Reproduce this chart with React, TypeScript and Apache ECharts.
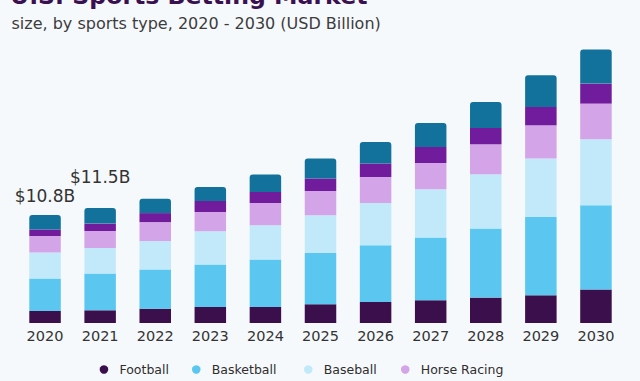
import React, { useEffect, useRef } from "react";
import * as echarts from "echarts";

const years = ["2020", "2021", "2022", "2023", "2024", "2025", "2026", "2027", "2028", "2029", "2030"];
const football = [1.2, 1.27, 1.43, 1.6, 1.6, 1.87, 2.1, 2.27, 2.54, 2.77, 3.34];
const basketball = [3.25, 3.67, 3.93, 4.24, 4.74, 5.13, 5.67, 6.27, 6.9, 7.83, 8.43];
const baseball = [2.6, 2.56, 2.83, 3.33, 3.43, 3.77, 4.23, 4.83, 5.43, 5.84, 6.6];
const horseRacing = [1.65, 1.7, 1.9, 1.93, 2.23, 2.43, 2.6, 2.63, 3.0, 3.33, 3.57];
const hockey = [0.65, 0.74, 0.9, 1.1, 1.1, 1.24, 1.34, 1.6, 1.63, 1.83, 2.0];
const others = [1.45, 1.56, 1.43, 1.4, 1.74, 2.0, 2.16, 2.4, 2.6, 3.17, 3.4];
const totalLabels = ["$10.8B", "$11.5B", "", "", "", "", "", "", "", "", ""];
const labelDistances = [11, 23, 0, 0, 0, 0, 0, 0, 0, 0, 0];

const FONT = "DejaVu Sans";

export default function App() {
  const ref = useRef<HTMLDivElement>(null);
  useEffect(() => {
    if (!ref.current) return;
    const chart = echarts.init(ref.current, undefined, { renderer: "svg" });
    const mk = (name: string, data: any[], color: string, extra: any = {}) => ({
      name,
      type: "bar",
      stack: "total",
      barWidth: 31.5,
      data,
      itemStyle: { color },
      emphasis: { disabled: true },
      ...extra,
    });
    const legendItem = (name: string, left: number) => ({
      data: [name],
      left,
      top: 358,
      icon: "circle",
      itemWidth: 21,
      itemHeight: 8.5,
      itemGap: 0,
      textStyle: { fontFamily: FONT, fontSize: 12.5, color: "#2e2e2e" },
      selectedMode: false,
    });
    chart.setOption({
      animation: false,
      backgroundColor: "#f6f9fc",
      grid: { left: 17.5, right: 16.5, top: 23, bottom: 58 },
      xAxis: {
        type: "category",
        data: years,
        axisLine: { show: false },
        axisTick: { show: false },
        axisLabel: { fontFamily: FONT, fontSize: 14.5, color: "#333", margin: 5 },
      },
      yAxis: { type: "value", min: 0, max: 30, show: false, splitLine: { show: false } },
      legend: [
        legendItem("Football", 94.7),
        legendItem("Basketball", 187),
        legendItem("Baseball", 299),
        legendItem("Horse Racing", 396),
      ],
      graphic: [
        {
          type: "text",
          left: 10,
          top: -16,
          style: {
            text: "U.S. Sports Betting Market",
            font: `bold 23.6px "${FONT}"`,
            fill: "#3a1150",
          },
        },
        {
          type: "text",
          left: 11.5,
          top: 15,
          style: {
            text: "size, by sports type, 2020 - 2030 (USD Billion)",
            font: `16px "${FONT}"`,
            fill: "#3c3c3c",
          },
        },
      ],
      series: [
        mk("Football", football, "#3a0f4c"),
        mk("Basketball", basketball, "#5bc7f1"),
        mk("Baseball", baseball, "#c2e9fa"),
        mk("Horse Racing", horseRacing, "#d3a4e8"),
        mk("Hockey", hockey, "#701c9c"),
        mk(
          "Others",
          others.map((v, i) => ({
            value: v,
            label: {
              show: totalLabels[i] !== "",
              position: "top",
              distance: labelDistances[i],
              formatter: totalLabels[i],
              fontFamily: FONT,
              fontSize: 17,
              color: "#333",
            },
          })),
          "#13729b",
          { itemStyle: { color: "#13729b", borderRadius: [3, 3, 0, 0] } }
        ),
      ],
    });
    return () => chart.dispose();
  }, []);
  return (
    <div
      ref={ref}
      style={{ position: "absolute", left: 0, top: 0, width: 640, height: 381 }}
    />
  );
}
